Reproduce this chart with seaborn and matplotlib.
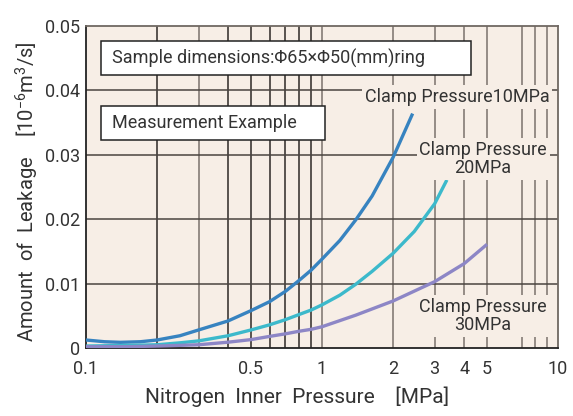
import numpy as np
import pandas as pd
import seaborn as sns
import matplotlib.pyplot as plt
from matplotlib.patches import Rectangle
from matplotlib.ticker import FixedLocator, FixedFormatter, NullLocator

# clamp pressure 10 MPa
p_10 = [0.1, 0.12, 0.14, 0.17, 0.2, 0.25, 0.3, 0.4, 0.5, 0.6, 0.7, 0.8, 0.9, 1.0,
        1.19, 1.39, 1.63, 2.0, 2.42]
leak_10 = [0.00124, 0.00097, 0.00088, 0.00097, 0.00124, 0.0019, 0.0028, 0.0042, 0.0058,
           0.0072, 0.0088, 0.0105, 0.0121, 0.0138, 0.0167, 0.0199, 0.0236, 0.0296, 0.0364]
# clamp pressure 20 MPa
p_20 = [0.1, 0.15, 0.2, 0.25, 0.3, 0.4, 0.5, 0.6, 0.7, 0.8, 0.9, 1.0, 1.19, 1.39,
        1.63, 2.0, 2.46, 3.0, 3.38]
leak_20 = [0.0003, 0.0004, 0.0005, 0.0008, 0.0011, 0.0019, 0.0028, 0.0036, 0.0044, 0.0052,
           0.0059, 0.0067, 0.0082, 0.0099, 0.0119, 0.0147, 0.0181, 0.0224, 0.0261]
# clamp pressure 30 MPa
p_30 = [0.1, 0.15, 0.2, 0.3, 0.4, 0.5, 0.6, 0.7, 0.8, 0.9, 1.0, 1.39, 2.0, 3.0, 4.0, 5.0]
leak_30 = [0.0002, 0.0002, 0.0003, 0.0005, 0.0009, 0.0013, 0.0018, 0.0022, 0.0026, 0.0029,
           0.0033, 0.0051, 0.0073, 0.0103, 0.0131, 0.0161]

series_names = ["10MPa", "20MPa", "30MPa"]
line_colors = ["#3783c0", "#3cb9cb", "#8d86c6"]

x_ticks = [0.1, 0.5, 1, 2, 3, 4, 5, 10]
x_tick_labels = ["0.1", "0.5", "1", "2", "3", "4", "5", "10"]
# the original grid skips the line at 6
x_grid = [0.2, 0.3, 0.4, 0.5, 0.6, 0.7, 0.8, 0.9, 1, 2, 3, 4, 5, 7, 8, 9]
y_ticks = [0, 0.01, 0.02, 0.03, 0.04, 0.05]
y_tick_labels = ["0", "0.01", "0.02", "0.03", "0.04", "0.05"]

df = pd.concat([
    pd.DataFrame({"p": p_10, "leak": leak_10, "clamp": series_names[0]}),
    pd.DataFrame({"p": p_20, "leak": leak_20, "clamp": series_names[1]}),
    pd.DataFrame({"p": p_30, "leak": leak_30, "clamp": series_names[2]}),
])

sns.set_style("white")
plt.rcParams["font.family"] = ["Roboto", "DejaVu Sans"]
plt.rcParams["mathtext.fontset"] = "custom"
plt.rcParams["mathtext.rm"] = "Roboto"

txt = "#333333"
bg = "#f7eee6"
fig = plt.figure(figsize=(5.73, 4.16), dpi=100)
ax = fig.add_axes([0.150, 0.1635, 0.824, 0.774])
ax.set_facecolor(bg)

ax.set_xscale("log")
ax.set_xlim(0.1, 10)
ax.set_ylim(0, 0.05)

for v in x_grid:
    dark = v < 1 and v != 0.3
    ax.axvline(v, color="#2e2826" if dark else "#7a726c", lw=1.1, zorder=1)
for v in y_ticks[1:-1]:
    ax.axhline(v, color="#4a4440", lw=1.1, zorder=1)

sns.lineplot(data=df, x="p", y="leak", hue="clamp", palette=line_colors,
             sort=False, lw=2.4, legend=False, ax=ax, zorder=3,
             solid_joinstyle="round", solid_capstyle="butt")

ax.xaxis.set_major_locator(FixedLocator(x_ticks))
ax.xaxis.set_major_formatter(FixedFormatter(x_tick_labels))
ax.xaxis.set_minor_locator(NullLocator())
ax.set_yticks(y_ticks)
ax.set_yticklabels(y_tick_labels)
ax.tick_params(length=0, labelsize=13, labelcolor=txt)
ax.tick_params(axis="x", pad=9)
ax.tick_params(axis="y", pad=4)

for side in ["left", "bottom"]:
    ax.spines[side].set_color("#222222")
    ax.spines[side].set_linewidth(1.3)
for side in ["top", "right"]:
    ax.spines[side].set_color("#6f6862")
    ax.spines[side].set_linewidth(1.3)

ax.set_xlabel("Nitrogen  Inner  Pressure    [MPa]", fontsize=15, color=txt)
ax.xaxis.set_label_coords(0.447, -0.12)
ax.set_ylabel(r"Amount  of  Leakage    [10$^{-6}$m$^{3}$/s]", fontsize=14.5, color=txt)
ax.yaxis.set_label_coords(-0.095, 0.485)

# white info boxes
ax.add_patch(Rectangle((0.032, 0.848), 0.784, 0.105, transform=ax.transAxes,
                       facecolor="white", edgecolor="#222222", lw=1.1, zorder=4))
ax.text(0.056, 0.900, "Sample dimensions:Φ65×Φ50(mm)ring", transform=ax.transAxes,
        fontsize=13, color=txt, va="center", ha="left", zorder=5)
ax.add_patch(Rectangle((0.032, 0.646), 0.474, 0.106, transform=ax.transAxes,
                       facecolor="white", edgecolor="#222222", lw=1.1, zorder=4))
ax.text(0.056, 0.699, "Measurement Example", transform=ax.transAxes,
        fontsize=13, color=txt, va="center", ha="left", zorder=5)

label_box = dict(facecolor=bg, edgecolor="none", pad=2)
ax.text(0.786, 0.780, "Clamp Pressure10MPa", transform=ax.transAxes, fontsize=13,
        color=txt, ha="center", va="center", bbox=label_box, zorder=4)
ax.text(0.841, 0.587, "Clamp Pressure\n20MPa", transform=ax.transAxes, fontsize=13,
        color=txt, ha="center", va="center", linespacing=1.0, bbox=label_box, zorder=4)
ax.text(0.841, 0.099, "Clamp Pressure\n30MPa", transform=ax.transAxes, fontsize=13,
        color=txt, ha="center", va="center", linespacing=1.0, bbox=label_box, zorder=4)

fig.savefig("out.png", dpi=100)
